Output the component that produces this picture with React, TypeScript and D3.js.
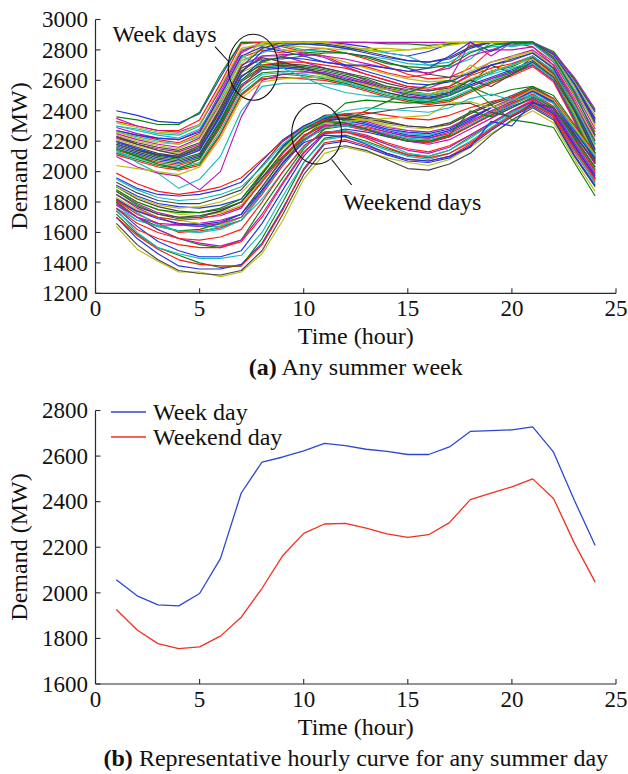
import React from 'react';
import * as d3 from 'd3';

const hours = [1, 2, 3, 4, 5, 6, 7, 8, 9, 10, 11, 12, 13, 14, 15, 16, 17, 18, 19, 20, 21, 22, 23, 24];

const weekdayCurves: number[][] = [
  [2400, 2370, 2330, 2320, 2380, 2620, 2850, 2850, 2850, 2850, 2850, 2840, 2820, 2780, 2760, 2790, 2840, 2850, 2850, 2850, 2850, 2780, 2600, 2390],
  [2360, 2340, 2310, 2310, 2390, 2640, 2850, 2850, 2840, 2850, 2850, 2850, 2850, 2840, 2840, 2830, 2840, 2850, 2850, 2830, 2850, 2790, 2610, 2400],
  [2330, 2300, 2270, 2270, 2340, 2580, 2840, 2850, 2820, 2790, 2760, 2700, 2690, 2650, 2620, 2640, 2700, 2830, 2850, 2850, 2850, 2760, 2570, 2340],
  [2300, 2280, 2250, 2240, 2300, 2550, 2800, 2830, 2850, 2840, 2830, 2810, 2800, 2780, 2760, 2700, 2690, 2740, 2850, 2820, 2850, 2750, 2540, 2310],
  [2290, 2250, 2220, 2210, 2270, 2520, 2780, 2850, 2800, 2780, 2750, 2690, 2640, 2600, 2560, 2550, 2600, 2850, 2760, 2850, 2840, 2740, 2530, 2280],
  [2270, 2240, 2210, 2190, 2250, 2490, 2750, 2800, 2780, 2800, 2810, 2780, 2740, 2690, 2640, 2610, 2620, 2680, 2800, 2850, 2820, 2720, 2500, 2260],
  [2260, 2230, 2200, 2180, 2230, 2470, 2730, 2780, 2830, 2800, 2790, 2780, 2760, 2740, 2710, 2700, 2720, 2790, 2820, 2830, 2840, 2730, 2510, 2240],
  [2250, 2210, 2180, 2160, 2220, 2450, 2700, 2760, 2760, 2720, 2680, 2650, 2600, 2560, 2540, 2530, 2560, 2640, 2720, 2760, 2800, 2700, 2480, 2230],
  [2240, 2200, 2170, 2150, 2210, 2440, 2710, 2820, 2800, 2790, 2760, 2720, 2680, 2640, 2610, 2590, 2600, 2660, 2720, 2750, 2790, 2690, 2470, 2210],
  [2230, 2190, 2160, 2140, 2190, 2420, 2680, 2740, 2740, 2760, 2780, 2780, 2760, 2720, 2680, 2640, 2620, 2640, 2700, 2740, 2780, 2680, 2450, 2200],
  [2220, 2180, 2150, 2130, 2180, 2400, 2660, 2760, 2770, 2770, 2760, 2740, 2710, 2680, 2660, 2650, 2680, 2760, 2800, 2800, 2820, 2700, 2460, 2180],
  [2210, 2170, 2140, 2120, 2170, 2390, 2650, 2720, 2700, 2660, 2630, 2600, 2570, 2540, 2510, 2500, 2560, 2700, 2640, 2760, 2790, 2670, 2440, 2170],
  [2200, 2160, 2120, 2100, 2150, 2370, 2630, 2700, 2710, 2700, 2680, 2650, 2620, 2580, 2550, 2530, 2550, 2600, 2660, 2700, 2760, 2660, 2430, 2150],
  [2190, 2150, 2110, 2090, 2140, 2360, 2620, 2730, 2750, 2740, 2720, 2700, 2660, 2620, 2580, 2570, 2590, 2650, 2700, 2730, 2780, 2680, 2420, 2140],
  [2180, 2140, 2100, 2080, 2120, 2340, 2600, 2690, 2700, 2690, 2670, 2640, 2610, 2560, 2530, 2510, 2540, 2600, 2660, 2690, 2750, 2650, 2410, 2120],
  [2170, 2130, 2090, 2070, 2110, 2330, 2590, 2680, 2690, 2680, 2660, 2630, 2590, 2550, 2520, 2500, 2520, 2580, 2700, 2650, 2750, 2640, 2400, 2110],
  [2160, 2120, 2080, 2060, 2100, 2310, 2570, 2670, 2680, 2670, 2650, 2610, 2580, 2540, 2510, 2490, 2510, 2570, 2620, 2670, 2730, 2630, 2380, 2100],
  [2150, 2110, 2070, 2050, 2090, 2300, 2560, 2650, 2660, 2660, 2640, 2600, 2560, 2520, 2490, 2480, 2500, 2560, 2610, 2660, 2720, 2620, 2370, 2080],
  [2140, 2100, 2060, 2040, 2080, 2290, 2550, 2700, 2720, 2720, 2700, 2680, 2640, 2600, 2560, 2540, 2560, 2630, 2680, 2710, 2760, 2640, 2390, 2090],
  [2130, 2090, 2050, 2030, 2060, 2270, 2530, 2640, 2650, 2640, 2620, 2590, 2550, 2510, 2480, 2460, 2480, 2540, 2600, 2650, 2710, 2610, 2360, 2070],
  [2120, 2080, 2040, 2020, 2050, 2250, 2510, 2620, 2640, 2630, 2610, 2580, 2540, 2500, 2470, 2450, 2470, 2530, 2590, 2640, 2700, 2600, 2350, 2060],
  [2110, 2070, 2030, 2010, 2040, 2240, 2500, 2610, 2620, 2610, 2600, 2570, 2530, 2490, 2460, 2440, 2460, 2520, 2580, 2630, 2690, 2590, 2330, 2050],
  [2140, 2060, 1990, 1890, 1950, 2100, 2400, 2560, 2580, 2580, 2580, 2570, 2550, 2540, 2520, 2500, 2530, 2600, 2640, 2680, 2720, 2620, 2390, 2100],
  [2100, 2030, 1990, 1970, 1880, 2000, 2360, 2600, 2640, 2650, 2650, 2620, 2580, 2540, 2500, 2480, 2500, 2560, 2610, 2650, 2700, 2600, 2340, 2070],
  [2040, 2020, 2000, 1980, 2030, 2220, 2480, 2590, 2610, 2620, 2620, 2600, 2570, 2540, 2520, 2510, 2540, 2610, 2660, 2700, 2740, 2630, 2380, 2090],
  [2300, 2270, 2240, 2220, 2280, 2500, 2760, 2700, 2680, 2620, 2560, 2520, 2500, 2490, 2480, 2470, 2500, 2580, 2650, 2700, 2760, 2660, 2430, 2180],
  [2350, 2300, 2270, 2260, 2310, 2540, 2790, 2850, 2850, 2850, 2850, 2850, 2850, 2850, 2850, 2850, 2850, 2850, 2850, 2840, 2850, 2780, 2620, 2410],
  [2320, 2290, 2260, 2250, 2310, 2560, 2810, 2840, 2830, 2820, 2810, 2800, 2810, 2810, 2800, 2810, 2830, 2850, 2850, 2850, 2850, 2770, 2590, 2370],
  [2230, 2180, 2140, 2110, 2170, 2420, 2690, 2810, 2850, 2850, 2840, 2820, 2790, 2760, 2730, 2720, 2750, 2820, 2850, 2850, 2850, 2760, 2560, 2320],
  [2200, 2150, 2110, 2090, 2140, 2380, 2650, 2790, 2830, 2840, 2830, 2810, 2780, 2750, 2730, 2720, 2740, 2810, 2850, 2850, 2850, 2760, 2570, 2330],
  [2260, 2220, 2190, 2180, 2240, 2480, 2740, 2850, 2850, 2850, 2850, 2830, 2800, 2790, 2800, 2820, 2850, 2850, 2850, 2850, 2850, 2760, 2560, 2300],
  [2180, 2140, 2110, 2100, 2160, 2400, 2660, 2750, 2720, 2680, 2640, 2600, 2560, 2520, 2490, 2480, 2520, 2600, 2560, 2640, 2720, 2620, 2400, 2120],
  [2270, 2240, 2220, 2210, 2260, 2500, 2760, 2820, 2790, 2760, 2720, 2700, 2700, 2680, 2660, 2680, 2760, 2850, 2790, 2850, 2850, 2770, 2580, 2350],
  [2150, 2100, 2050, 2020, 2080, 2320, 2600, 2720, 2760, 2780, 2790, 2780, 2750, 2710, 2690, 2680, 2700, 2780, 2830, 2850, 2850, 2750, 2520, 2240],
];

const weekendCurves: number[][] = [
  [1640, 1490, 1410, 1340, 1340, 1310, 1340, 1460, 1680, 1950, 2120, 2160, 2130, 2090, 2060, 2040, 2080, 2160, 2250, 2330, 2400, 2320, 2080, 1870],
  [1660, 1520, 1420, 1350, 1330, 1320, 1350, 1480, 1720, 1980, 2150, 2170, 2140, 2080, 2020, 2010, 2050, 2120, 2240, 2340, 2420, 2340, 2100, 1900],
  [1700, 1560, 1460, 1380, 1360, 1360, 1390, 1530, 1760, 2010, 2180, 2200, 2160, 2110, 2070, 2060, 2090, 2170, 2270, 2360, 2430, 2350, 2110, 1910],
  [1720, 1590, 1500, 1450, 1400, 1370, 1380, 1560, 1800, 2060, 2220, 2240, 2200, 2150, 2110, 2100, 2140, 2230, 2310, 2390, 2460, 2380, 2150, 1950],
  [1760, 1640, 1540, 1480, 1440, 1440, 1480, 1660, 1880, 2100, 2250, 2280, 2260, 2230, 2200, 2190, 2230, 2300, 2370, 2430, 2480, 2400, 2180, 1960],
  [1800, 1700, 1620, 1560, 1520, 1500, 1550, 1760, 1960, 2150, 2280, 2300, 2280, 2250, 2210, 2200, 2230, 2300, 2380, 2440, 2500, 2420, 2200, 1990],
  [1740, 1620, 1560, 1520, 1500, 1500, 1540, 1700, 1920, 2120, 2260, 2270, 2240, 2190, 2150, 2130, 2170, 2240, 2320, 2400, 2470, 2390, 2160, 1950],
  [1780, 1680, 1640, 1650, 1640, 1640, 1680, 1820, 2000, 2160, 2260, 2270, 2230, 2180, 2120, 2100, 2140, 2220, 2310, 2390, 2450, 2370, 2150, 1940],
  [1810, 1720, 1660, 1600, 1610, 1630, 1680, 1850, 2040, 2200, 2300, 2310, 2290, 2260, 2230, 2220, 2250, 2320, 2390, 2450, 2510, 2430, 2210, 2000],
  [1820, 1730, 1650, 1610, 1600, 1640, 1700, 1880, 2060, 2220, 2320, 2330, 2310, 2280, 2250, 2240, 2270, 2330, 2400, 2460, 2520, 2450, 2230, 2020],
  [1850, 1760, 1700, 1650, 1660, 1680, 1720, 1900, 2080, 2230, 2310, 2320, 2300, 2260, 2230, 2220, 2260, 2330, 2400, 2460, 2530, 2450, 2230, 2030],
  [1830, 1750, 1700, 1680, 1660, 1650, 1700, 1860, 2060, 2230, 2330, 2360, 2340, 2300, 2270, 2260, 2290, 2350, 2420, 2480, 2540, 2460, 2250, 2050],
  [1870, 1790, 1730, 1700, 1700, 1710, 1760, 1940, 2120, 2260, 2340, 2350, 2330, 2290, 2270, 2260, 2290, 2360, 2420, 2480, 2540, 2460, 2250, 2050],
  [1880, 1800, 1750, 1720, 1710, 1730, 1780, 1950, 2130, 2270, 2360, 2370, 2340, 2310, 2290, 2280, 2310, 2380, 2440, 2490, 2550, 2470, 2260, 2060],
  [1900, 1820, 1770, 1740, 1730, 1750, 1800, 1980, 2160, 2290, 2370, 2380, 2360, 2330, 2300, 2290, 2320, 2390, 2450, 2500, 2560, 2480, 2280, 2080],
  [1910, 1840, 1790, 1770, 1760, 1780, 1820, 1990, 2170, 2280, 2350, 2340, 2310, 2270, 2240, 2230, 2270, 2340, 2420, 2470, 2530, 2460, 2250, 2060],
  [1930, 1860, 1810, 1790, 1790, 1830, 1880, 2040, 2200, 2300, 2360, 2370, 2350, 2320, 2300, 2290, 2310, 2380, 2440, 2490, 2550, 2470, 2270, 2080],
  [1960, 1890, 1850, 1840, 1850, 1880, 1930, 2070, 2210, 2300, 2360, 2350, 2320, 2280, 2260, 2250, 2280, 2350, 2420, 2470, 2530, 2460, 2270, 2090],
  [1870, 1780, 1720, 1690, 1700, 1740, 1800, 1960, 2100, 2210, 2280, 2340, 2400, 2460, 2520, 2570, 2600, 2560, 2500, 2540, 2560, 2500, 2310, 2120],
  [1990, 1920, 1870, 1850, 1870, 1900, 1960, 2080, 2200, 2290, 2340, 2380, 2390, 2370, 2350, 2340, 2370, 2420, 2460, 2490, 2540, 2480, 2300, 2120],
  [1800, 1700, 1640, 1610, 1620, 1660, 1720, 1900, 2090, 2230, 2330, 2450, 2470, 2460, 2450, 2460, 2500, 2560, 2440, 2340, 2320, 2290, 2060, 1840],
  [1810, 1740, 1700, 1680, 1690, 1720, 1770, 1930, 2100, 2240, 2300, 2300, 2270, 2240, 2200, 2190, 2230, 2300, 2370, 2450, 2500, 2420, 2210, 2010],
  [1760, 1680, 1640, 1610, 1600, 1620, 1680, 1860, 2050, 2200, 2290, 2300, 2280, 2250, 2220, 2210, 2240, 2310, 2380, 2440, 2500, 2420, 2200, 1990],
  [1780, 1700, 1660, 1650, 1640, 1660, 1700, 1870, 2060, 2210, 2300, 2310, 2280, 2240, 2200, 2180, 2210, 2280, 2350, 2420, 2480, 2410, 2190, 1980],
  [1700, 1580, 1490, 1420, 1390, 1380, 1380, 1520, 1750, 2020, 2190, 2210, 2170, 2120, 2080, 2070, 2100, 2180, 2280, 2370, 2440, 2360, 2130, 1930],
  [1750, 1600, 1500, 1460, 1430, 1430, 1450, 1600, 1840, 2060, 2210, 2230, 2190, 2140, 2100, 2080, 2120, 2200, 2290, 2380, 2450, 2380, 2140, 1920],
  [1790, 1700, 1620, 1560, 1530, 1510, 1550, 1720, 1930, 2130, 2250, 2260, 2230, 2180, 2140, 2120, 2160, 2240, 2320, 2400, 2460, 2390, 2170, 1960],
  [1900, 1830, 1780, 1760, 1770, 1800, 1860, 2000, 2150, 2260, 2320, 2330, 2340, 2350, 2360, 2370, 2450, 2460, 2420, 2470, 2540, 2470, 2290, 2110],
  [1850, 1770, 1720, 1700, 1710, 1740, 1800, 1960, 2130, 2260, 2330, 2350, 2380, 2400, 2420, 2430, 2440, 2450, 2390, 2360, 2450, 2420, 2240, 2060],
  [1820, 1740, 1690, 1660, 1650, 1670, 1720, 1880, 2060, 2190, 2240, 2230, 2180, 2120, 2080, 2070, 2100, 2160, 2330, 2300, 2460, 2380, 2170, 1970],
  [1880, 1800, 1750, 1730, 1730, 1760, 1820, 1990, 2160, 2280, 2330, 2320, 2280, 2230, 2200, 2200, 2240, 2400, 2360, 2420, 2490, 2420, 2220, 2030],
  [1760, 1660, 1600, 1560, 1550, 1570, 1620, 1800, 2000, 2170, 2260, 2260, 2220, 2160, 2110, 2090, 2120, 2190, 2280, 2370, 2440, 2370, 2150, 1950],
  [1950, 1880, 1830, 1810, 1820, 1850, 1900, 2030, 2180, 2290, 2360, 2400, 2420, 2410, 2400, 2390, 2420, 2480, 2510, 2470, 2500, 2450, 2280, 2100],
];

const weekdayMean = [2057, 1987, 1947, 1943, 1997, 2150, 2438, 2574, 2596, 2623, 2656, 2646, 2630, 2621, 2607, 2607, 2640, 2708, 2712, 2715, 2728, 2617, 2406, 2208];
const weekendMean = [1927, 1837, 1777, 1755, 1763, 1810, 1893, 2020, 2164, 2261, 2302, 2305, 2284, 2259, 2243, 2255, 2308, 2409, 2438, 2465, 2500, 2414, 2218, 2047];

const xTicks = [0, 5, 10, 15, 20, 25];
const yTicksA = [1200, 1400, 1600, 1800, 2000, 2200, 2400, 2600, 2800, 3000];
const yTicksB = [1600, 1800, 2000, 2200, 2400, 2600, 2800];
const legendLabels = ['Week day', 'Weekend day'];

const colorCycle = ['#1f35e0', '#0a820a', '#ff1a10', '#12bcbc', '#bb14bb', '#bcbc10', '#444444'];
const FONT = '"Liberation Serif", "Times New Roman", serif';
const AXIS = '#2a2a2a';

type Sc = d3.ScaleLinear<number, number>;

function Axes({ x, y, yTicks, yLabelY }: { x: Sc; y: Sc; yTicks: number[]; yLabelY: number }) {
  const [x0, x1] = x.range();
  const [yb, yt] = y.range();
  return (
    <g>
      <line x1={x0} x2={x1} y1={yb} y2={yb} stroke={AXIS} strokeWidth={1.2} />
      <line x1={x0} x2={x0} y1={yb} y2={yt} stroke={AXIS} strokeWidth={1.2} />
      {xTicks.map((t) => (
        <g key={'x' + t}>
          <line x1={x(t)} x2={x(t)} y1={yb} y2={yb - 5} stroke={AXIS} strokeWidth={1.1} />
          <text x={x(t)} y={yb + 22.5} textAnchor="middle" fontSize={23} fontFamily={FONT} fill="#111">
            {t}
          </text>
        </g>
      ))}
      {yTicks.map((t) => (
        <g key={'y' + t}>
          <line x1={x0} x2={x0 + 5} y1={y(t)} y2={y(t)} stroke={AXIS} strokeWidth={1.1} />
          <text x={88} y={y(t)} dy="0.34em" textAnchor="end" fontSize={23} fontFamily={FONT} fill="#111">
            {t}
          </text>
        </g>
      ))}
      <text
        transform={`translate(27,${yLabelY}) rotate(-90)`}
        textAnchor="middle"
        fontSize={24}
        fontFamily={FONT}
        fill="#111"
      >
        Demand (MW)
      </text>
      <text x={(x0 + x1) / 2} y={yb + 51} textAnchor="middle" fontSize={24} fontFamily={FONT} fill="#111">
        Time (hour)
      </text>
    </g>
  );
}

export default function App() {
  const xA = d3.scaleLinear().domain([0, 25]).range([95.5, 616]);
  const yA = d3.scaleLinear().domain([1200, 3000]).range([293.3, 19.5]);
  const xB = d3.scaleLinear().domain([0, 25]).range([95.5, 616]);
  const yB = d3.scaleLinear().domain([1600, 2800]).range([684, 410.5]);

  const lineA = d3
    .line<number>()
    .x((_, i) => xA(hours[i]))
    .y((d) => yA(d));
  const lineB = d3
    .line<number>()
    .x((_, i) => xB(hours[i]))
    .y((d) => yB(d));

  // interleave weekdays and weekend days the way a week-by-week plot would
  const allCurves: number[][] = [];
  let wi = 0;
  let ei = 0;
  while (wi < weekdayCurves.length || ei < weekendCurves.length) {
    for (let k = 0; k < 5 && wi < weekdayCurves.length; k++) allCurves.push(weekdayCurves[wi++]);
    for (let k = 0; k < 4 && ei < weekendCurves.length; k++) allCurves.push(weekendCurves[ei++]);
  }

  return (
    <svg
      width={628}
      height={774}
      viewBox="0 0 628 774"
      style={{ position: 'absolute', left: 0, top: 0, background: '#fff' }}
    >
      <rect x={0} y={0} width={628} height={774} fill="#fff" />
      {/* Panel (a) */}
      <g>
        {allCurves.map((c, i) => (
          <path
            key={i}
            d={lineA(c) || ''}
            fill="none"
            stroke={colorCycle[i % colorCycle.length]}
            strokeWidth={1.15}
            strokeLinejoin="round"
          />
        ))}
      </g>
      <Axes x={xA} y={yA} yTicks={yTicksA} yLabelY={156} />
      <ellipse cx={253.3} cy={67.3} rx={25} ry={33} fill="none" stroke="#111" strokeWidth={1.1} />
      <ellipse cx={316.7} cy={133.7} rx={25} ry={30.4} fill="none" stroke="#111" strokeWidth={1.1} />
      <line x1={215} y1={46.7} x2={228.6} y2={61.5} stroke="#111" strokeWidth={1.1} />
      <line x1={331.7} y1={159.5} x2={351.7} y2={185} stroke="#111" strokeWidth={1.1} />
      <text x={112.5} y={42} fontSize={24} fontFamily={FONT} fill="#111">
        Week days
      </text>
      <text x={342.7} y={210} fontSize={24} fontFamily={FONT} fill="#111">
        Weekend days
      </text>
      <text x={355.8} y={375} textAnchor="middle" fontSize={24} fontFamily={FONT} fill="#111">
        <tspan fontWeight="bold">(a)</tspan> Any summer week
      </text>

      {/* Panel (b) */}
      <Axes x={xB} y={yB} yTicks={yTicksB} yLabelY={547} />
      <path d={lineB(weekdayMean) || ''} fill="none" stroke="#2c48d2" strokeWidth={1.3} strokeLinejoin="round" />
      <path d={lineB(weekendMean) || ''} fill="none" stroke="#f2301e" strokeWidth={1.3} strokeLinejoin="round" />
      <line x1={111} x2={146} y1={412} y2={412} stroke="#2c48d2" strokeWidth={1.3} />
      <line x1={111} x2={146} y1={437} y2={437} stroke="#f2301e" strokeWidth={1.3} />
      <text x={153} y={420} fontSize={24} fontFamily={FONT} fill="#111">
        {legendLabels[0]}
      </text>
      <text x={153} y={445} fontSize={24} fontFamily={FONT} fill="#111">
        {legendLabels[1]}
      </text>
      <text x={355.8} y={766} textAnchor="middle" fontSize={24} fontFamily={FONT} fill="#111">
        <tspan fontWeight="bold">(b)</tspan> Representative hourly curve for any summer day
      </text>
    </svg>
  );
}
